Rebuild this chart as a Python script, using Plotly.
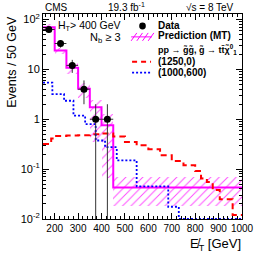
import plotly.graph_objects as go

# ---------------- data ----------------
data_x = [175, 225, 275, 325, 375, 425]
data_y = [63, 33, 12, 4, 1, 1]
data_err_up = [8, 5.7, 3.5, 2, 1, 1]
data_err_dn = [8, 5.7, 3.5, 2, 1, 1]

pred_edges = [150, 200, 250, 300, 350, 400, 450, 1000]
pred_vals = [70, 24, 10.8, 4.1, 1.73, 0.76, 0.043]
pred_lo = [62, 20, 8, 2.7, 0.35, 0.065, 0.018]
pred_hi = [80, 27, 13.5, 5.4, 2.4, 1.3, 0.068]

sig1_edges = [150, 185, 200, 250, 300, 350, 400, 450, 500, 550, 600, 650, 700,
              750, 800, 825, 850, 875, 905, 960, 1000]
sig1_vals = [0.32, 0.41, 0.46, 0.47, 0.48, 0.50, 0.52, 0.45, 0.35, 0.30, 0.25,
             0.19, 0.145, 0.12, 0.092, 0.065, 0.055, 0.038, 0.025, 0.012]

sig2_edges = [150, 190, 240, 280, 330, 375, 415, 465, 550, 685, 730, 1000]
sig2_vals = [5.4, 3.2, 2.35, 1.18, 0.80, 0.375, 0.275, 0.15, 0.045, 0.0176, 0.0101]

y_tickvals = [0.01, 0.1, 1, 10, 100]
y_ticktext = ["10<sup>-2</sup>", "10<sup>-1</sup>", "1", "10", "10<sup>2</sup>"]
x_tickvals = [200, 300, 400, 500, 600, 700, 800, 900, 1000]

# ---------------- layout geometry ----------------
W, H = 266, 253
L, R, T, B = 43, 13, 13, 34
PW, PH = W - L - R, H - T - B
FONT = "Liberation Sans, Arial, DejaVu Sans"
MAG = "#ff00ff"


def px(x):
    return (x - L) / PW


def py(y):
    return (H - B - y) / PH


fig = go.Figure()

# hatched uncertainty band
centers = [(a + b) / 2 for a, b in zip(pred_edges[:-1], pred_edges[1:])]
widths = [b - a for a, b in zip(pred_edges[:-1], pred_edges[1:])]
fig.add_trace(go.Bar(
    x=centers, width=widths, base=pred_lo,
    y=[h - l for h, l in zip(pred_hi, pred_lo)],
    marker=dict(color="rgba(0,0,0,0)", line=dict(width=0),
                pattern=dict(shape="/", fgcolor=MAG, bgcolor="rgba(0,0,0,0)",
                             size=6, solidity=0.16, fgopacity=0.7)),
    showlegend=False, hoverinfo="skip"))

# prediction step line
fig.add_trace(go.Scatter(
    x=pred_edges, y=pred_vals + [pred_vals[-1]], mode="lines",
    line=dict(color=MAG, width=2, shape="hv"), showlegend=False))

# signals
fig.add_trace(go.Scatter(
    x=sig1_edges, y=sig1_vals + [sig1_vals[-1]], mode="lines",
    line=dict(color="#ff0000", width=2, shape="hv", dash="6px,4px"),
    showlegend=False))
fig.add_trace(go.Scatter(
    x=sig2_edges, y=sig2_vals + [sig2_vals[-1]], mode="lines",
    line=dict(color="#0000ff", width=1.8, shape="hv", dash="2px,2px"),
    showlegend=False))

# data
fig.add_trace(go.Scatter(
    x=data_x, y=data_y, mode="markers",
    marker=dict(color="black", size=7, symbol="circle"),
    error_y=dict(type="data", array=data_err_up, arrayminus=data_err_dn,
                 color="#333333", thickness=1, width=0),
    error_x=dict(type="constant", value=25, color="#333333", thickness=1, width=0),
    showlegend=False))

minor_y = [k * 10 ** e for e in range(-2, 2) for k in range(2, 10)]

fig.update_layout(
    width=W, height=H, margin=dict(l=L, r=R, t=T, b=B),
    paper_bgcolor="white", plot_bgcolor="white",
    barmode="overlay", bargap=0,
    font=dict(family=FONT, color="black"),
    xaxis=dict(range=[150, 1000], tickmode="array", tickvals=x_tickvals,
               ticks="inside", ticklen=6, tickwidth=1, tickcolor="black",
               showline=True, linecolor="black", linewidth=1, mirror="allticks",
               showgrid=False, zeroline=False,
               tickfont=dict(size=10, family=FONT),
               minor=dict(ticks="inside", ticklen=3, dtick=20, tick0=0,
                          tickcolor="black", showgrid=False)),
    yaxis=dict(type="log", range=[-2, 2.11], tickmode="array",
               tickvals=y_tickvals, ticktext=y_ticktext,
               ticks="inside", ticklen=6, tickwidth=1, tickcolor="black",
               showline=True, linecolor="black", linewidth=1, mirror="allticks",
               showgrid=False, zeroline=False,
               tickfont=dict(size=11, family=FONT),
               minor=dict(ticks="inside", ticklen=3, tickmode="array",
                          tickvals=minor_y, tickcolor="black", showgrid=False)),
)

ann = []


def text(x, y, s, size, xanchor="left", bold=False, angle=0, yanchor="middle"):
    ann.append(dict(x=px(x), y=py(y), xref="paper", yref="paper", text=s,
                    showarrow=False, xanchor=xanchor, yanchor=yanchor,
                    textangle=angle,
                    font=dict(size=size, family=FONT, color="black",
                              weight="bold" if bold else "normal")))


# header
text(43, 6, "CMS", 10)
text(131, 6, "19.3 fb<sup>-1</sup>", 10, xanchor="center")
text(247, 6, "√s = 8 TeV", 10, xanchor="right")

# selection
text(127, 25, "H<sub>T</sub>> 400 GeV", 10.5, xanchor="right")
text(127, 37, "N<sub>b</sub> ≥ 3", 11, xanchor="right")

# legend texts
text(162, 25, "Data", 10, bold=True)
text(162, 35, "Prediction (MT)", 10, bold=True)
text(162, 49, "pp → g̃g̃, g̃ → tt̄χ̃<sup>0</sup><sub>1</sub>", 9, bold=True)
text(162, 61, "(1250,0)", 10, bold=True)
text(162, 72, "(1000,600)", 10, bold=True)

# axis titles
ann.append(dict(x=px(10), y=1.0, xref="paper", yref="paper",
                text="Events / 50 GeV", showarrow=False, textangle=-90,
                xanchor="center", yanchor="top",
                font=dict(size=12.5, family=FONT, color="black")))
ann.append(dict(x=px(254), y=py(245), xref="paper", yref="paper",
                text="E̸<sub>T</sub> [GeV]", showarrow=False,
                xanchor="right", yanchor="middle",
                font=dict(size=13, family=FONT, color="black")))

fig.update_layout(annotations=ann)

# legend symbols
shapes = []
r = 3.5
shapes.append(dict(type="circle", xref="paper", yref="paper",
                   x0=px(148 - r), x1=px(148 + r), y0=py(25 + r), y1=py(25 - r),
                   fillcolor="black", line=dict(color="black", width=0)))
for xs in [136, 142, 148, 154]:
    shapes.append(dict(type="line", xref="paper", yref="paper",
                       x0=px(xs), y0=py(40), x1=px(xs + 6), y1=py(32),
                       line=dict(color=MAG, width=1)))
shapes.append(dict(type="line", xref="paper", yref="paper",
                   x0=px(136), y0=py(36), x1=px(158), y1=py(36),
                   line=dict(color=MAG, width=1)))
shapes.append(dict(type="line", xref="paper", yref="paper",
                   x0=px(137), y0=py(61), x1=px(157), y1=py(61),
                   line=dict(color="#ff0000", width=2, dash="5px,4px")))
shapes.append(dict(type="line", xref="paper", yref="paper",
                   x0=px(137), y0=py(72), x1=px(157), y1=py(72),
                   line=dict(color="#0000ff", width=1.8, dash="2px,2px")))
fig.update_layout(shapes=shapes)

fig.write_html(
    "out.html",
    config={"displayModeBar": False},
    post_script="document.body.style.margin='0';document.body.style.overflow='hidden';",
)
